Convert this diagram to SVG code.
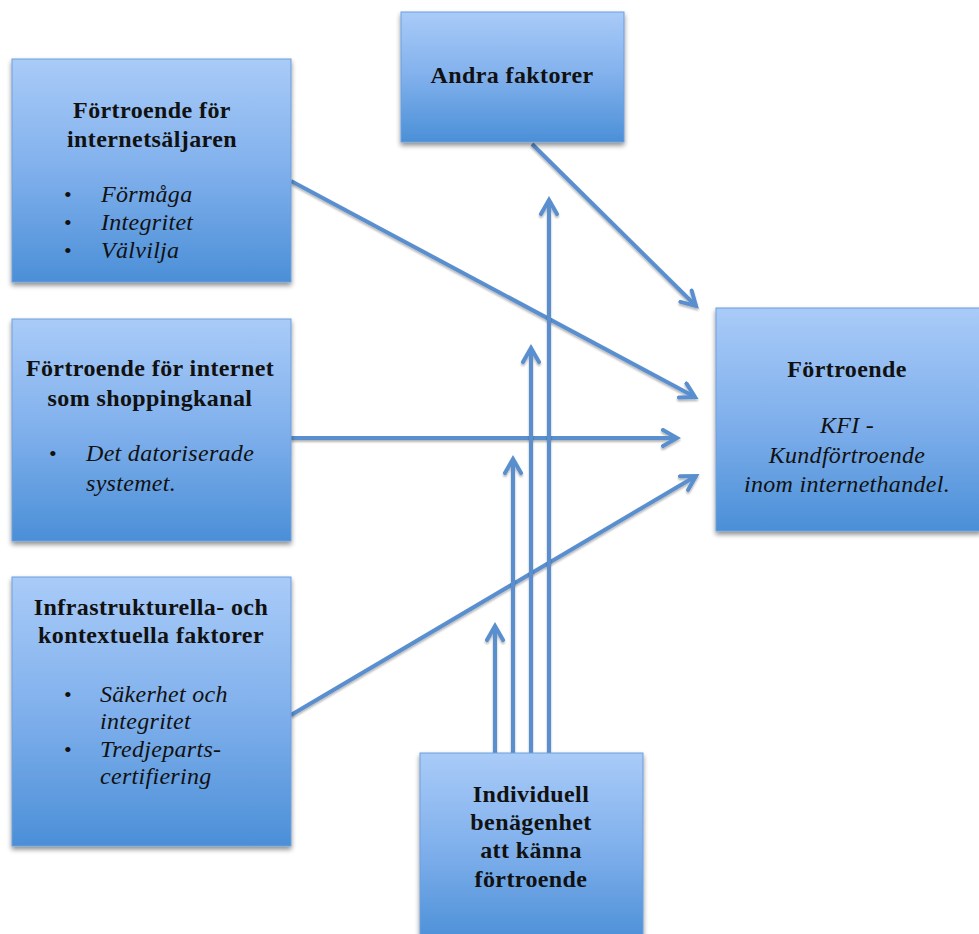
<svg xmlns="http://www.w3.org/2000/svg" width="979" height="934" viewBox="0 0 979 934">
<defs>
<linearGradient id="g" x1="0" y1="0" x2="0" y2="1">
<stop offset="0" stop-color="#a9cbf8"/>
<stop offset="0.5" stop-color="#80b0ec"/>
<stop offset="1" stop-color="#4b8fd7"/>
</linearGradient>
<filter id="sh" x="-10%" y="-10%" width="120%" height="125%">
<feGaussianBlur in="SourceAlpha" stdDeviation="2.5"/>
<feOffset dx="0" dy="3" result="b"/>
<feComponentTransfer><feFuncA type="linear" slope="0.45"/></feComponentTransfer>
<feMerge><feMergeNode/><feMergeNode in="SourceGraphic"/></feMerge>
</filter>
<filter id="lsh" filterUnits="userSpaceOnUse" x="0" y="0" width="979" height="934">
<feGaussianBlur in="SourceAlpha" stdDeviation="1.2"/>
<feOffset dx="0" dy="2"/>
<feComponentTransfer><feFuncA type="linear" slope="0.3"/></feComponentTransfer>
<feMerge><feMergeNode/><feMergeNode in="SourceGraphic"/></feMerge>
</filter>
<marker id="arr" markerWidth="20" markerHeight="20" viewBox="-16 -10 20 20" refX="0" refY="0" orient="auto" markerUnits="userSpaceOnUse">
<path d="M-14,-8 L0,0 L-14,8" fill="none" stroke="#5a8fcf" stroke-width="4" stroke-linecap="round" stroke-linejoin="miter"/>
</marker>
<style>
.box{fill:url(#g);stroke:#6d9fdc;stroke-width:1;filter:url(#sh)}
.t{font-family:"Liberation Serif","Times New Roman",serif;font-weight:bold;font-size:24px;letter-spacing:0.4px;fill:#111;text-anchor:middle}
.i{font-family:"Liberation Serif","Times New Roman",serif;font-style:italic;font-size:24px;letter-spacing:0.3px;fill:#111}
.ic{font-family:"Liberation Serif","Times New Roman",serif;font-style:italic;font-size:24px;letter-spacing:0.3px;fill:#111;text-anchor:middle}
.b{font-family:"Liberation Serif","Times New Roman",serif;font-size:22px;fill:#111}
.c{stroke:#5a8fcf;stroke-width:4;fill:none;marker-end:url(#arr);filter:url(#lsh)}
</style>
</defs>
<rect width="979" height="934" fill="#ffffff"/>

<g id="connectors">
<line class="c" x1="291" y1="181" x2="695" y2="397"/>
<line class="c" x1="532" y1="144" x2="696" y2="306"/>
<line class="c" x1="291" y1="438" x2="677" y2="438"/>
<line class="c" x1="291" y1="715" x2="696" y2="476"/>
<line class="c" x1="495" y1="753" x2="495" y2="626"/>
<line class="c" x1="513" y1="753" x2="513" y2="459"/>
<line class="c" x1="531" y1="753" x2="531" y2="348"/>
<line class="c" x1="549" y1="753" x2="549" y2="200"/>
</g>

<g id="n-saljaren">
<rect class="box" x="12" y="59" width="279" height="223"/>
<text class="t" x="152" y="118">Förtroende för</text>
<text class="t" x="152" y="147">internetsäljaren</text>
<text class="b" x="64" y="202">•</text><text class="i" x="101" y="202">Förmåga</text>
<text class="b" x="64" y="230">•</text><text class="i" x="101" y="230">Integritet</text>
<text class="b" x="64" y="258">•</text><text class="i" x="101" y="258">Välvilja</text>
</g>

<g id="n-andra">
<rect class="box" x="401" y="12" width="223" height="130"/>
<text class="t" x="512" y="83">Andra faktorer</text>
</g>

<g id="n-internet">
<rect class="box" x="12" y="319" width="279" height="222"/>
<text class="t" x="150" y="376">Förtroende för internet</text>
<text class="t" x="150" y="406">som shoppingkanal</text>
<text class="b" x="49" y="461">•</text><text class="i" x="86" y="461">Det datoriserade</text>
<text class="i" x="86" y="491">systemet.</text>
</g>

<g id="n-infra">
<rect class="box" x="12" y="577" width="279" height="269"/>
<text class="t" x="151" y="615">Infrastrukturella- och</text>
<text class="t" x="151" y="643">kontextuella faktorer</text>
<text class="b" x="64" y="702">•</text><text class="i" x="100" y="702">Säkerhet och</text>
<text class="i" x="100" y="729">integritet</text>
<text class="b" x="64" y="757">•</text><text class="i" x="100" y="757">Tredjeparts-</text>
<text class="i" x="100" y="784">certifiering</text>
</g>

<g id="n-fortroende">
<rect class="box" x="716" y="308" width="265" height="223"/>
<text class="t" x="847" y="377">Förtroende</text>
<text class="ic" x="847" y="433">KFI -</text>
<text class="ic" x="847" y="463">Kundförtroende</text>
<text class="ic" x="847" y="492">inom internethandel.</text>
</g>

<g id="n-individuell">
<rect class="box" x="420" y="753" width="223" height="190"/>
<text class="t" x="531" y="802">Individuell</text>
<text class="t" x="531" y="830">benägenhet</text>
<text class="t" x="531" y="858">att känna</text>
<text class="t" x="531" y="887">förtroende</text>
</g>
</svg>
